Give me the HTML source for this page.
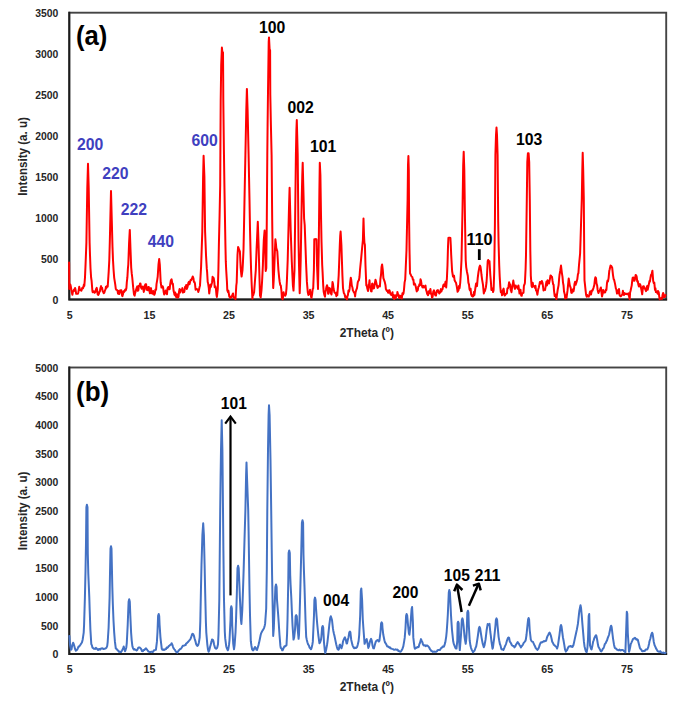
<!DOCTYPE html>
<html><head><meta charset="utf-8"><title>XRD</title>
<style>
html,body{margin:0;padding:0;background:#fff;}
body{width:685px;height:707px;overflow:hidden;}
svg{display:block;}
text{font-family:"Liberation Sans",sans-serif;font-weight:bold;}
.tk{font-size:10.2px;fill:#262626;}
.ti{font-size:12px;fill:#262626;}
.pk{font-size:16.1px;}
.pn{font-size:28.2px;fill:#000;}
</style></head><body>
<svg width="685" height="707" viewBox="0 0 685 707">
<rect x="0" y="0" width="685" height="707" fill="#ffffff"/>
<rect x="69.3" y="12.7" width="596.9" height="286.8" fill="none" stroke="#444444" stroke-width="1.9"/>
<path d="M69.3,11.799999999999999 L69.3,299.5 L667.1,299.5" fill="none" stroke="#1c1c1c" stroke-width="1.9" stroke-linejoin="miter"/>
<path d="M69.1,262.5 L69.3,289.0 L70.3,284.5 L70.7,286.0 L71.6,291.2 L72.4,294.8 L72.9,291.6 L73.3,291.3 L74.0,289.5 L74.6,290.8 L75.1,288.0 L75.5,289.6 L76.2,293.8 L77.0,293.8 L77.9,293.7 L78.4,292.2 L79.2,286.8 L80.1,290.0 L80.6,289.7 L81.4,290.8 L82.3,287.9 L83.0,288.3 L83.4,287.2 L83.9,284.4 L84.3,286.0 L85.0,277.4 L85.6,263.4 L86.4,242.6 L87.3,187.8 L88.0,163.8 L88.7,187.8 L89.6,242.6 L90.0,255.1 L90.5,268.3 L91.1,277.5 L91.6,280.9 L92.4,291.0 L92.7,292.2 L93.3,291.7 L93.8,291.2 L94.6,292.8 L95.5,291.9 L96.0,289.3 L96.7,287.9 L97.1,289.8 L97.7,294.3 L98.2,295.0 L98.9,293.8 L99.3,292.2 L99.9,291.4 L100.4,288.2 L101.1,286.1 L101.5,288.8 L102.1,287.9 L102.6,291.0 L103.3,292.1 L103.7,293.3 L104.3,292.8 L104.8,290.9 L105.6,289.1 L105.9,286.8 L106.5,287.9 L107.0,286.1 L107.7,286.6 L108.1,280.7 L108.7,271.6 L109.3,260.1 L109.8,242.0 L110.3,220.7 L111.0,191.1 L111.8,220.7 L112.5,247.1 L113.0,260.1 L113.6,270.2 L114.2,277.8 L114.8,281.6 L115.3,284.9 L115.8,289.0 L116.4,289.8 L116.9,289.9 L117.5,290.5 L118.0,293.6 L118.6,291.1 L119.1,294.1 L119.7,292.5 L120.2,290.3 L120.8,291.9 L121.3,290.3 L121.9,294.8 L122.4,296.1 L123.0,294.3 L123.5,291.3 L124.1,292.0 L124.7,290.9 L125.2,289.5 L125.7,290.4 L126.4,288.1 L126.8,282.4 L127.4,277.2 L127.9,268.6 L128.3,264.5 L129.1,242.6 L129.8,229.9 L130.5,249.2 L131.2,267.6 L131.7,273.2 L132.3,278.0 L133.2,287.7 L134.0,294.3 L134.6,295.7 L135.1,293.1 L135.6,291.6 L136.2,289.3 L136.7,287.7 L137.3,286.3 L137.8,290.8 L138.4,290.1 L138.9,285.7 L139.5,285.9 L140.0,283.6 L140.5,283.6 L141.1,287.7 L141.7,288.6 L142.2,287.7 L142.8,286.5 L143.3,289.0 L143.8,291.9 L144.4,288.9 L145.0,285.3 L145.5,284.3 L146.1,284.2 L146.6,289.8 L147.1,288.7 L147.7,290.2 L148.3,287.0 L148.8,286.9 L149.4,290.5 L149.9,293.3 L150.4,290.5 L151.0,288.1 L151.6,293.3 L152.1,291.5 L152.7,293.7 L153.2,291.1 L153.7,293.6 L154.3,294.8 L154.9,293.4 L155.4,289.6 L156.1,289.8 L156.5,284.1 L157.1,280.6 L157.7,276.7 L158.5,264.5 L159.2,259.0 L159.8,264.5 L160.7,282.5 L161.5,287.6 L162.0,286.4 L162.6,286.2 L163.1,287.4 L163.7,292.0 L164.2,294.6 L164.8,293.5 L165.3,291.9 L165.7,290.4 L166.4,293.2 L167.0,294.1 L167.5,288.5 L168.3,287.0 L169.2,289.3 L169.7,289.2 L170.1,284.8 L170.8,280.6 L171.6,279.3 L172.5,284.4 L172.9,283.8 L173.6,291.0 L174.1,292.8 L174.5,294.9 L175.2,292.4 L175.8,296.6 L176.3,297.0 L176.9,294.2 L177.4,297.6 L177.8,297.3 L178.5,297.0 L179.1,291.2 L179.6,288.9 L180.2,292.5 L181.0,290.0 L181.8,290.2 L182.4,288.1 L182.9,292.6 L183.5,290.9 L184.3,291.9 L185.1,286.8 L185.7,287.4 L186.2,284.9 L186.8,288.9 L187.6,286.8 L188.4,282.8 L189.0,281.7 L189.5,284.3 L190.2,281.5 L190.6,280.1 L191.2,280.0 L191.7,278.9 L192.3,277.8 L192.7,276.5 L193.4,278.1 L193.9,281.8 L194.6,282.2 L195.0,283.8 L195.6,289.7 L196.4,289.1 L197.2,289.2 L197.8,290.0 L198.3,292.0 L199.0,289.7 L199.6,286.9 L200.0,285.4 L200.6,275.3 L201.1,266.6 L201.6,252.0 L202.3,231.6 L203.1,176.9 L203.6,155.8 L204.4,176.9 L205.1,231.6 L205.5,241.7 L206.0,255.0 L206.8,268.9 L207.1,271.8 L207.7,282.0 L208.1,283.3 L208.8,288.1 L209.2,293.5 L209.9,288.6 L210.4,284.7 L210.8,287.0 L211.5,284.4 L212.1,282.2 L212.6,276.7 L213.0,277.3 L213.7,278.2 L214.3,281.9 L214.7,287.3 L215.4,286.4 L215.9,288.5 L216.5,295.1 L216.9,297.0 L217.8,288.8 L218.4,270.0 L218.9,244.0 L219.6,215.0 L220.2,185.0 L220.4,150.0 L220.7,100.0 L221.2,65.0 L221.9,47.5 L222.5,53.5 L223.0,52.5 L223.2,80.0 L223.3,100.0 L223.9,150.0 L224.4,185.0 L224.9,215.0 L225.4,244.0 L225.8,261.4 L226.2,270.0 L226.9,281.1 L227.3,290.2 L228.0,292.2 L228.4,290.8 L229.3,296.5 L229.7,296.2 L230.2,298.0 L231.0,297.3 L231.9,296.1 L232.4,294.9 L233.0,293.5 L233.5,297.4 L234.1,297.3 L234.6,297.9 L235.5,299.2 L236.3,285.5 L236.7,282.3 L237.5,255.0 L238.1,247.0 L238.5,247.9 L239.2,250.0 L239.9,251.5 L240.7,268.0 L241.2,273.5 L241.6,276.5 L242.5,270.0 L242.9,263.1 L243.5,250.0 L244.0,226.6 L244.5,200.0 L245.4,155.0 L246.3,110.0 L246.9,88.9 L247.6,110.0 L248.6,155.0 L249.5,200.0 L250.0,228.7 L250.5,250.0 L251.1,270.0 L251.7,284.7 L252.4,298.6 L252.8,294.7 L253.3,295.1 L254.1,292.3 L255.0,280.5 L255.8,270.0 L256.6,248.5 L257.0,240.0 L257.8,221.8 L258.6,245.0 L259.4,275.0 L260.0,295.5 L260.7,297.5 L261.5,290.1 L262.1,281.0 L262.9,265.0 L263.2,254.8 L263.8,240.0 L264.6,230.5 L265.2,250.0 L265.7,271.0 L266.3,268.0 L266.8,220.0 L267.3,155.0 L267.6,125.0 L268.0,92.0 L268.7,42.0 L269.0,37.4 L269.6,49.0 L270.1,50.3 L270.3,95.0 L270.9,125.0 L271.6,155.0 L272.2,220.0 L272.8,270.0 L273.2,288.1 L273.7,280.3 L274.2,270.0 L274.8,253.7 L275.4,239.3 L275.9,243.7 L276.3,248.0 L277.3,251.3 L278.4,270.0 L279.2,278.2 L279.7,282.0 L280.2,284.8 L280.8,285.6 L281.4,290.5 L281.9,298.1 L282.6,299.3 L283.0,297.2 L283.6,292.2 L284.0,295.2 L284.7,294.3 L285.2,295.7 L285.9,294.3 L286.5,288.3 L286.9,280.7 L287.7,260.0 L288.7,220.0 L289.1,204.1 L289.6,187.8 L290.3,215.0 L290.7,230.5 L291.2,245.0 L291.8,261.8 L292.4,275.0 L292.9,285.5 L293.5,290.6 L294.0,279.6 L294.5,270.0 L295.1,223.1 L295.9,155.0 L296.4,130.0 L296.8,120.0 L297.2,135.0 L297.7,155.0 L298.5,240.0 L299.0,265.3 L299.7,293.3 L300.1,283.0 L300.7,260.0 L301.2,230.0 L301.7,200.0 L302.3,174.9 L302.7,162.7 L303.4,190.0 L304.1,218.5 L304.7,225.0 L305.6,250.0 L306.1,264.0 L306.9,281.9 L307.8,292.4 L308.4,295.0 L308.9,293.2 L309.4,293.9 L310.0,289.8 L310.5,292.6 L311.1,296.8 L311.5,297.8 L312.2,293.5 L312.7,289.1 L313.2,288.4 L313.9,270.0 L314.3,239.3 L314.9,239.2 L315.5,239.2 L316.0,239.0 L316.5,239.3 L317.0,265.0 L318.0,289.0 L318.7,250.0 L319.4,190.0 L319.8,162.7 L320.4,175.0 L321.0,215.0 L321.5,241.2 L322.2,265.0 L322.6,272.4 L323.2,285.3 L323.7,291.9 L324.3,294.6 L325.0,296.7 L325.4,291.9 L325.9,289.9 L326.5,286.7 L327.0,285.2 L327.6,287.1 L328.1,293.7 L328.5,293.7 L329.2,287.9 L330.0,288.6 L330.9,293.3 L331.5,294.5 L332.0,289.8 L332.5,282.0 L333.0,284.0 L333.6,289.0 L334.5,292.4 L335.3,293.1 L336.0,294.1 L336.4,296.2 L336.9,292.3 L337.3,295.1 L338.0,286.2 L338.7,275.0 L339.1,264.3 L339.8,245.0 L340.2,236.0 L340.6,231.6 L341.4,245.0 L341.9,260.1 L342.4,275.0 L343.0,288.2 L343.8,292.9 L344.6,294.2 L345.2,297.4 L346.0,296.5 L347.0,299.3 L347.4,296.3 L347.9,295.1 L348.5,290.5 L349.0,291.7 L349.6,288.9 L350.1,283.1 L350.8,277.7 L351.2,279.6 L351.8,285.5 L352.5,287.8 L352.9,290.5 L353.4,291.3 L354.0,292.5 L354.7,293.5 L355.1,296.4 L355.6,292.2 L356.2,290.2 L357.0,288.1 L357.8,282.1 L358.4,280.8 L358.9,280.3 L359.5,277.0 L360.0,270.0 L360.6,263.9 L361.1,259.1 L361.7,252.3 L362.2,247.0 L362.9,240.0 L363.5,218.5 L364.0,235.0 L364.4,242.6 L364.9,245.0 L365.5,265.7 L366.3,285.4 L366.6,284.4 L367.2,287.9 L368.0,291.1 L368.8,286.6 L369.5,280.3 L369.9,286.6 L370.5,286.2 L371.0,291.2 L371.6,291.4 L372.1,283.8 L372.5,283.5 L373.2,288.4 L374.0,288.3 L374.9,283.3 L375.5,279.7 L376.0,281.4 L376.5,283.6 L377.0,285.9 L377.6,287.9 L378.2,286.9 L378.8,286.1 L379.3,285.6 L379.9,286.4 L380.4,279.0 L381.0,275.0 L381.5,267.3 L382.1,264.5 L382.8,270.0 L383.4,278.1 L384.3,280.6 L384.8,282.1 L385.5,285.3 L385.9,289.1 L386.8,290.9 L387.5,290.6 L388.1,292.7 L388.6,292.7 L389.3,290.1 L389.7,290.7 L390.3,293.5 L390.8,294.6 L391.4,295.0 L391.9,294.3 L392.5,292.2 L392.9,297.3 L393.6,294.9 L394.1,299.0 L395.0,295.5 L395.8,298.3 L396.3,295.0 L397.0,295.8 L397.4,291.9 L398.0,294.2 L398.5,294.7 L399.0,297.8 L399.6,297.9 L400.2,295.8 L401.0,296.3 L401.8,298.5 L402.4,293.3 L402.9,294.6 L403.5,293.4 L404.0,289.6 L404.6,282.4 L405.2,279.6 L405.7,268.8 L406.5,250.0 L407.6,200.0 L408.0,165.0 L408.4,156.0 L408.8,170.0 L409.1,220.0 L409.5,249.9 L410.0,273.2 L410.9,275.0 L411.5,276.5 L412.3,277.0 L412.9,279.8 L413.4,279.5 L413.9,284.6 L414.5,283.5 L415.0,284.1 L415.6,286.0 L416.1,288.3 L416.7,291.4 L417.1,290.8 L417.8,290.0 L418.3,286.5 L419.0,286.1 L419.4,284.2 L420.0,285.2 L420.5,279.3 L421.0,280.7 L421.6,284.7 L422.5,287.4 L423.3,285.9 L424.0,287.5 L424.4,287.4 L424.9,286.6 L425.5,285.6 L426.0,289.6 L426.6,291.4 L427.1,293.7 L428.0,295.2 L428.8,291.3 L429.3,293.4 L430.0,290.8 L430.4,288.9 L431.0,293.9 L431.5,293.8 L432.0,297.6 L432.6,296.8 L433.2,292.0 L434.0,290.3 L434.8,293.9 L435.4,295.5 L436.0,295.5 L436.5,292.2 L437.0,290.6 L437.6,291.7 L438.0,290.1 L438.7,292.2 L439.2,293.5 L440.1,292.4 L440.9,289.1 L441.4,291.4 L442.0,289.4 L442.5,289.3 L443.1,286.1 L443.6,284.5 L444.0,285.8 L444.7,286.3 L445.5,281.8 L446.2,287.4 L446.9,278.5 L447.5,265.0 L448.0,246.9 L448.4,238.0 L449.1,237.7 L449.7,237.8 L450.4,238.0 L450.8,245.3 L451.2,255.0 L452.1,271.0 L453.0,276.5 L453.5,276.9 L454.0,275.7 L454.6,280.3 L455.2,281.5 L456.0,282.8 L456.8,286.6 L457.6,291.8 L458.5,290.3 L459.0,286.1 L459.6,288.2 L460.2,283.0 L460.7,275.8 L461.5,260.0 L462.5,210.0 L463.2,165.0 L463.7,151.7 L464.3,170.0 L465.0,220.0 L465.7,260.1 L466.2,267.1 L467.0,272.0 L467.8,275.7 L468.4,282.6 L469.0,284.6 L469.5,289.1 L470.0,290.5 L470.6,288.8 L471.1,294.1 L471.8,295.9 L472.2,295.1 L472.8,296.5 L473.5,295.9 L473.9,292.0 L474.4,295.0 L475.1,290.2 L475.5,287.2 L476.1,283.5 L476.6,285.1 L477.0,286.1 L477.7,278.1 L478.5,272.0 L479.4,267.2 L480.0,265.6 L480.5,266.8 L481.0,270.3 L481.5,275.0 L482.1,279.6 L483.0,284.8 L483.8,293.4 L484.3,291.8 L484.9,291.1 L485.4,289.2 L485.9,287.2 L486.5,282.5 L487.0,275.0 L487.7,261.2 L488.2,260.0 L488.7,261.8 L489.5,261.2 L490.3,275.0 L490.9,281.8 L491.4,289.9 L492.0,289.5 L492.6,288.5 L493.1,292.0 L493.6,290.0 L494.2,272.0 L494.9,225.0 L495.4,155.0 L496.0,135.0 L496.5,127.6 L497.0,135.0 L497.6,155.0 L498.2,222.0 L498.6,243.8 L499.2,265.0 L499.7,276.6 L500.3,286.6 L500.8,292.2 L501.4,291.2 L502.0,295.3 L502.5,294.5 L503.0,290.2 L503.6,288.6 L504.0,291.1 L504.7,295.6 L505.2,295.1 L506.0,293.8 L506.9,293.3 L507.4,288.5 L508.0,288.3 L508.5,286.5 L509.1,282.3 L509.6,283.8 L510.0,284.3 L510.7,289.8 L511.5,292.2 L512.4,285.1 L512.9,283.7 L513.3,280.6 L514.0,285.1 L514.6,287.9 L515.0,288.9 L515.7,285.4 L516.2,287.4 L517.0,286.7 L517.9,288.8 L518.4,285.5 L519.0,289.6 L519.5,293.5 L520.1,292.6 L520.5,289.8 L521.2,295.6 L521.7,295.8 L522.1,293.7 L522.8,293.1 L523.5,292.6 L523.9,285.9 L524.5,284.4 L524.9,283.0 L525.6,268.8 L526.0,255.0 L526.8,200.0 L527.3,162.0 L527.9,153.2 L528.6,153.2 L529.2,162.0 L529.8,200.0 L530.3,250.0 L530.8,275.6 L531.6,286.1 L532.1,287.2 L532.7,282.7 L533.3,286.2 L534.1,286.1 L534.9,287.8 L535.5,285.8 L536.0,290.5 L536.6,290.8 L537.4,294.7 L538.2,289.4 L538.8,287.5 L539.5,284.1 L539.9,281.9 L540.4,282.1 L541.0,283.5 L541.8,280.9 L542.6,283.0 L543.5,290.5 L544.3,289.7 L545.1,289.9 L545.9,284.6 L546.5,281.5 L547.0,285.5 L547.6,280.3 L548.1,282.4 L549.0,283.5 L549.8,279.6 L550.5,275.4 L550.9,275.6 L551.4,276.5 L552.0,276.8 L552.5,280.5 L553.1,284.1 L553.6,284.9 L554.0,290.6 L554.7,296.1 L555.3,294.4 L556.0,297.5 L556.4,299.0 L556.9,295.4 L557.8,289.2 L558.6,285.1 L559.1,278.9 L559.5,275.0 L560.2,271.0 L561.0,265.6 L561.9,273.1 L562.5,276.8 L563.0,282.6 L563.5,285.2 L564.0,291.5 L564.8,294.6 L565.2,298.4 L565.7,295.3 L566.5,298.1 L567.5,290.7 L567.9,286.7 L568.7,278.5 L569.8,285.4 L570.7,287.8 L571.3,292.7 L571.8,292.9 L572.3,290.6 L572.9,289.4 L573.5,291.4 L574.0,288.9 L574.5,283.9 L575.1,281.8 L575.6,284.8 L576.0,283.7 L576.7,281.5 L577.3,279.3 L577.9,274.3 L578.4,273.3 L579.0,265.0 L579.5,259.9 L580.1,253.5 L580.6,238.3 L581.0,225.0 L581.8,198.8 L582.3,170.0 L582.7,152.8 L583.2,170.0 L583.8,198.8 L584.2,250.0 L584.5,280.3 L585.0,284.9 L585.5,289.7 L586.1,295.0 L586.7,296.7 L587.2,295.0 L588.0,296.3 L588.8,296.6 L589.4,294.5 L590.0,291.8 L590.5,291.3 L591.0,294.5 L591.6,291.8 L592.1,290.3 L592.5,290.6 L593.5,287.8 L594.3,285.1 L594.9,279.5 L595.4,277.3 L596.0,278.1 L596.5,283.4 L597.1,285.2 L597.6,289.7 L598.4,293.0 L599.3,290.9 L600.0,290.1 L600.4,288.7 L600.9,287.5 L601.5,292.7 L602.0,296.4 L602.6,294.1 L603.1,289.9 L604.0,292.3 L604.8,292.6 L605.3,292.0 L605.9,289.5 L606.4,290.0 L607.0,283.0 L607.5,280.6 L608.0,281.4 L608.6,278.1 L609.3,270.7 L609.7,269.3 L610.5,265.6 L611.4,266.2 L612.2,267.8 L613.0,275.1 L613.7,279.3 L614.1,279.7 L615.0,283.6 L615.9,288.6 L616.3,289.4 L617.0,293.5 L617.4,291.6 L618.0,290.4 L618.5,293.2 L619.0,289.0 L619.6,295.2 L620.5,296.3 L621.3,295.8 L622.0,294.8 L622.4,294.3 L622.9,290.8 L623.5,294.5 L624.0,295.0 L624.6,293.1 L625.1,293.6 L626.0,294.1 L626.8,293.7 L627.3,294.3 L628.0,294.0 L628.4,293.3 L629.0,296.1 L629.7,299.3 L630.1,292.5 L630.6,290.8 L631.2,287.8 L631.7,285.6 L632.3,280.2 L632.7,277.6 L633.4,277.4 L634.0,280.8 L634.5,280.8 L635.0,278.9 L635.6,275.1 L636.1,275.2 L636.7,276.8 L637.2,281.4 L637.8,281.0 L638.3,284.4 L638.9,286.5 L639.5,285.8 L640.0,284.1 L640.5,285.3 L641.4,289.7 L642.2,294.3 L643.0,286.5 L643.8,286.3 L644.3,288.3 L644.9,288.5 L645.5,290.0 L646.0,291.2 L646.6,287.3 L647.3,285.8 L647.7,289.7 L648.5,286.1 L649.5,281.0 L649.9,281.7 L650.4,278.3 L651.0,275.0 L651.5,274.8 L652.4,270.7 L653.2,281.1 L653.8,283.3 L654.3,282.5 L655.0,289.8 L655.4,288.2 L655.9,292.1 L656.8,291.8 L657.6,293.6 L658.0,290.9 L658.7,292.2 L659.2,296.3 L659.7,299.3 L660.3,298.6 L661.0,298.3 L661.4,297.7 L662.0,298.9 L662.6,294.7 L663.1,293.0 L663.6,294.2 L664.0,297.0 L664.7,297.0 L665.5,295.1" fill="none" stroke="#ff0000" stroke-width="2" stroke-linejoin="round" stroke-linecap="round"/>
<text class="tk" x="58.3" y="303.8" text-anchor="end" textLength="5.9" lengthAdjust="spacingAndGlyphs">0</text>
<text class="tk" x="58.3" y="262.8" text-anchor="end" textLength="17.4" lengthAdjust="spacingAndGlyphs">500</text>
<text class="tk" x="58.3" y="221.9" text-anchor="end" textLength="23.1" lengthAdjust="spacingAndGlyphs">1000</text>
<text class="tk" x="58.3" y="180.9" text-anchor="end" textLength="23.1" lengthAdjust="spacingAndGlyphs">1500</text>
<text class="tk" x="58.3" y="139.9" text-anchor="end" textLength="23.1" lengthAdjust="spacingAndGlyphs">2000</text>
<text class="tk" x="58.3" y="98.9" text-anchor="end" textLength="23.1" lengthAdjust="spacingAndGlyphs">2500</text>
<text class="tk" x="58.3" y="58.0" text-anchor="end" textLength="23.1" lengthAdjust="spacingAndGlyphs">3000</text>
<text class="tk" x="58.3" y="17.0" text-anchor="end" textLength="23.1" lengthAdjust="spacingAndGlyphs">3500</text>
<text class="tk" x="69.8" y="318.7" text-anchor="middle" textLength="5.9" lengthAdjust="spacingAndGlyphs">5</text>
<text class="tk" x="149.4" y="318.7" text-anchor="middle" textLength="11.9" lengthAdjust="spacingAndGlyphs">15</text>
<text class="tk" x="229.0" y="318.7" text-anchor="middle" textLength="11.9" lengthAdjust="spacingAndGlyphs">25</text>
<text class="tk" x="308.6" y="318.7" text-anchor="middle" textLength="11.9" lengthAdjust="spacingAndGlyphs">35</text>
<text class="tk" x="388.1" y="318.7" text-anchor="middle" textLength="11.9" lengthAdjust="spacingAndGlyphs">45</text>
<text class="tk" x="467.7" y="318.7" text-anchor="middle" textLength="11.9" lengthAdjust="spacingAndGlyphs">55</text>
<text class="tk" x="547.3" y="318.7" text-anchor="middle" textLength="11.9" lengthAdjust="spacingAndGlyphs">65</text>
<text class="tk" x="626.9" y="318.7" text-anchor="middle" textLength="11.9" lengthAdjust="spacingAndGlyphs">75</text>
<text class="ti" x="366.8" y="336.8" text-anchor="middle" textLength="54.2" lengthAdjust="spacingAndGlyphs">2Theta (º)</text>
<text class="ti" transform="translate(27.2,156.4) rotate(-90)" text-anchor="middle" textLength="78.6" lengthAdjust="spacingAndGlyphs">Intensity (a. u)</text>
<text class="pn" x="76.0" y="45.2" textLength="31.4" lengthAdjust="spacingAndGlyphs">(a)</text>
<text class="pk" x="77.0" y="150.0" fill="#3f3fbf" textLength="26.3" lengthAdjust="spacingAndGlyphs">200</text>
<text class="pk" x="102.2" y="179.0" fill="#3f3fbf" textLength="26.3" lengthAdjust="spacingAndGlyphs">220</text>
<text class="pk" x="120.8" y="215.2" fill="#3f3fbf" textLength="26.3" lengthAdjust="spacingAndGlyphs">222</text>
<text class="pk" x="147.8" y="247.4" fill="#3f3fbf" textLength="26.3" lengthAdjust="spacingAndGlyphs">440</text>
<text class="pk" x="191.6" y="146.2" fill="#3f3fbf" textLength="26.3" lengthAdjust="spacingAndGlyphs">600</text>
<text class="pk" x="258.9" y="33.0" fill="#000" textLength="26.3" lengthAdjust="spacingAndGlyphs">100</text>
<text class="pk" x="287.4" y="112.7" fill="#000" textLength="26.3" lengthAdjust="spacingAndGlyphs">002</text>
<text class="pk" x="310.0" y="152.4" fill="#000" textLength="26.3" lengthAdjust="spacingAndGlyphs">101</text>
<text class="pk" x="515.9" y="144.5" fill="#000" textLength="26.3" lengthAdjust="spacingAndGlyphs">103</text>
<text class="pk" x="466.4" y="244.8" fill="#000" textLength="26.3" lengthAdjust="spacingAndGlyphs">110</text>
<line x1="479.3" y1="249.2" x2="479.3" y2="260.0" stroke="#000" stroke-width="2.8"/>
<rect x="69.3" y="367.5" width="596.9" height="286.5" fill="none" stroke="#444444" stroke-width="1.9"/>
<path d="M69.3,366.6 L69.3,654.0 L667.1,654.0" fill="none" stroke="#1c1c1c" stroke-width="1.9" stroke-linejoin="miter"/>
<path d="M69.4,635.9 L70.1,645.6 L70.9,649.8 L71.5,649.2 L72.2,645.4 L73.1,642.7 L73.6,643.7 L74.3,646.1 L75.0,648.8 L75.9,650.7 L76.4,650.2 L77.1,649.9 L77.8,648.3 L78.5,646.5 L79.2,646.6 L79.9,645.4 L80.6,644.6 L81.4,643.3 L82.0,642.2 L82.7,639.4 L83.7,632.6 L84.1,624.5 L84.9,597.6 L85.5,571.4 L86.0,542.8 L86.4,507.3 L86.9,504.8 L87.5,507.3 L87.8,553.8 L88.3,573.8 L89.3,597.6 L89.7,610.1 L90.4,629.6 L91.3,644.1 L91.8,645.1 L92.5,647.7 L93.5,648.3 L93.9,648.7 L94.6,648.8 L95.3,649.0 L96.0,647.9 L96.7,648.5 L97.4,649.3 L98.1,650.0 L99.0,649.0 L99.5,649.1 L100.2,649.7 L100.9,648.5 L101.6,648.5 L102.0,648.2 L103.0,648.8 L103.7,649.0 L104.4,648.7 L105.0,648.7 L105.8,648.3 L106.6,647.5 L107.2,646.0 L107.7,641.8 L108.6,627.8 L109.6,597.6 L110.0,573.2 L110.5,548.7 L111.0,546.2 L111.5,548.7 L112.3,586.6 L112.8,603.3 L113.5,620.5 L114.2,632.6 L114.9,641.4 L115.8,648.5 L116.3,648.6 L117.0,649.5 L118.0,650.7 L118.4,650.8 L119.1,651.9 L119.8,651.7 L120.5,652.1 L121.0,652.1 L121.9,650.8 L122.6,649.4 L123.3,648.0 L123.7,646.5 L125.0,651.3 L125.4,650.6 L126.3,647.4 L126.8,642.8 L127.7,625.0 L128.2,611.8 L128.6,601.8 L129.2,599.3 L129.8,601.8 L130.3,615.0 L131.1,632.6 L131.7,640.3 L132.4,646.3 L132.9,647.9 L133.8,649.4 L134.5,649.0 L135.2,649.8 L136.0,649.9 L136.6,650.5 L137.3,650.0 L138.0,648.2 L138.7,647.4 L139.4,647.4 L139.9,647.8 L140.8,648.5 L141.5,649.8 L142.0,651.1 L142.9,651.2 L143.6,650.0 L144.3,650.1 L145.0,649.2 L146.0,648.3 L146.4,648.9 L147.1,649.7 L147.8,650.7 L148.5,651.6 L149.2,651.8 L150.0,652.0 L150.6,651.9 L151.3,651.8 L152.0,651.8 L152.7,652.1 L153.4,651.1 L154.0,650.3 L154.8,650.2 L155.5,649.9 L155.9,649.8 L156.9,641.9 L157.5,632.0 L158.1,615.9 L158.7,614.0 L159.2,615.9 L159.6,625.0 L160.4,636.8 L160.8,640.7 L161.8,648.8 L162.4,649.8 L163.2,649.4 L163.9,649.9 L164.6,649.8 L165.0,649.3 L166.0,649.1 L166.7,647.5 L167.4,647.9 L168.0,647.3 L168.8,645.9 L169.5,645.7 L170.2,644.9 L170.9,644.6 L171.6,643.2 L172.3,644.6 L173.0,646.8 L173.5,648.2 L174.4,649.3 L175.1,650.1 L175.8,651.6 L176.7,652.1 L177.2,652.7 L177.9,651.7 L178.6,650.6 L179.3,650.0 L180.0,649.1 L180.7,649.0 L181.4,648.1 L182.1,646.9 L182.8,645.7 L183.2,645.8 L184.2,645.5 L184.9,645.2 L185.6,645.1 L186.0,643.8 L187.0,642.9 L187.7,642.3 L188.7,641.1 L189.1,640.7 L189.8,639.9 L190.5,639.0 L191.0,637.7 L192.1,634.3 L192.7,633.7 L193.2,634.3 L194.0,636.0 L194.5,638.2 L195.4,641.1 L196.1,644.0 L196.8,645.4 L197.5,645.9 L198.2,645.1 L198.9,642.5 L199.7,637.3 L200.3,621.6 L201.0,587.0 L201.5,564.7 L202.4,535.0 L203.2,523.2 L203.9,535.0 L204.6,564.7 L205.2,593.6 L205.9,622.2 L206.3,632.6 L207.3,644.3 L208.0,649.8 L208.6,651.8 L209.4,649.9 L210.1,646.8 L210.5,645.4 L211.5,641.6 L212.0,639.4 L212.6,639.6 L213.2,640.4 L213.6,642.0 L214.0,644.2 L215.0,647.7 L215.8,648.5 L216.4,648.7 L217.1,647.9 L218.0,644.2 L218.5,634.1 L219.3,600.0 L220.2,510.0 L220.6,476.9 L221.0,450.0 L221.7,420.2 L222.4,450.0 L223.0,510.0 L223.4,550.7 L224.0,600.0 L224.8,631.7 L225.2,638.4 L226.2,646.2 L226.9,648.4 L227.8,650.3 L228.3,649.2 L229.0,644.9 L229.5,640.3 L230.5,620.0 L230.8,608.5 L231.3,606.3 L231.9,608.5 L232.2,625.0 L233.2,643.5 L234.0,649.3 L234.6,645.1 L235.5,632.6 L236.0,620.9 L236.8,595.0 L237.5,568.3 L238.1,565.8 L238.7,568.3 L239.5,587.4 L239.9,597.6 L240.9,619.4 L241.4,623.9 L242.3,609.6 L243.0,590.0 L243.7,568.1 L244.5,540.0 L245.4,510.0 L246.1,475.0 L246.5,462.5 L247.1,480.0 L248.2,510.0 L248.6,531.2 L249.5,590.0 L250.0,615.1 L250.8,641.2 L251.4,645.5 L252.1,649.3 L253.0,650.4 L253.5,650.2 L254.2,648.5 L255.0,647.0 L255.6,647.8 L256.5,649.7 L257.0,650.0 L257.7,647.8 L258.5,645.1 L259.1,642.6 L259.8,639.2 L260.7,634.8 L261.2,633.1 L261.9,631.8 L262.6,630.3 L263.0,630.0 L264.0,628.1 L264.7,625.7 L265.1,623.9 L266.2,608.5 L266.8,570.0 L267.3,510.0 L268.0,450.0 L268.6,415.0 L269.0,405.3 L269.6,415.0 L270.5,460.0 L271.2,510.0 L271.7,547.7 L272.1,575.7 L273.2,635.9 L273.8,628.3 L274.5,610.0 L275.4,586.9 L276.0,584.4 L276.6,586.9 L277.0,600.0 L278.2,615.1 L278.7,622.5 L279.5,635.0 L280.4,645.9 L280.8,648.0 L281.5,648.5 L282.2,650.3 L282.6,650.3 L283.6,648.0 L284.5,646.2 L285.0,646.5 L285.7,645.9 L286.5,645.3 L287.1,633.5 L287.5,620.0 L288.3,580.0 L288.6,553.0 L289.2,550.5 L289.8,553.0 L290.2,575.0 L290.6,584.7 L291.3,597.6 L292.0,614.4 L292.5,625.0 L293.5,639.6 L294.1,637.8 L295.0,630.0 L295.6,616.3 L296.2,615.1 L296.8,616.3 L297.3,625.0 L298.6,638.8 L299.0,635.0 L299.7,611.9 L300.1,597.6 L301.3,550.0 L301.9,522.8 L302.5,520.3 L303.1,522.8 L303.5,555.0 L303.9,569.6 L304.5,586.6 L305.5,620.0 L306.2,637.0 L306.7,639.4 L307.4,642.3 L308.1,644.4 L308.9,645.5 L309.5,647.5 L310.2,648.2 L311.0,649.3 L311.6,647.9 L312.3,644.7 L312.8,641.9 L314.0,615.0 L314.4,600.1 L315.0,597.6 L315.6,600.1 L316.0,608.0 L316.5,615.2 L317.2,623.9 L317.9,631.0 L318.3,635.0 L319.4,643.2 L320.0,642.6 L321.0,639.7 L321.4,636.5 L322.1,627.3 L322.7,626.0 L323.2,627.3 L324.0,642.5 L324.9,651.3 L325.3,653.1 L326.3,648.9 L327.0,645.0 L327.5,641.6 L328.4,633.6 L329.3,625.0 L329.8,621.1 L330.2,618.0 L330.8,616.2 L331.4,618.0 L332.0,620.0 L332.9,628.2 L333.3,630.7 L334.0,634.0 L334.5,636.0 L335.4,640.4 L336.2,644.3 L336.8,646.6 L337.5,648.9 L338.4,649.7 L338.9,649.2 L339.6,645.0 L340.0,644.5 L341.0,647.1 L341.5,648.3 L342.4,645.3 L343.0,641.5 L343.8,639.3 L344.5,637.8 L344.9,637.3 L345.9,640.2 L346.6,643.6 L347.0,643.4 L348.0,639.1 L348.5,637.5 L349.3,632.3 L349.9,631.5 L350.4,632.3 L350.8,636.0 L351.2,639.7 L352.5,645.2 L352.9,646.1 L353.6,647.5 L354.3,648.3 L355.0,647.6 L355.8,648.1 L356.4,647.7 L357.1,647.1 L357.8,644.5 L358.6,641.0 L359.2,635.1 L360.2,615.0 L360.8,590.9 L361.3,588.4 L362.1,600.0 L362.8,619.5 L363.4,628.2 L363.9,635.0 L364.6,643.8 L365.5,641.5 L366.2,639.8 L366.7,639.1 L367.6,643.7 L368.3,647.9 L369.0,646.3 L369.7,642.6 L370.4,640.2 L371.1,638.8 L371.8,640.8 L372.5,645.4 L373.3,648.2 L373.9,648.4 L374.6,645.8 L375.3,643.2 L376.0,641.2 L376.6,640.7 L377.4,640.1 L378.1,640.2 L378.8,641.5 L379.4,640.9 L380.5,632.0 L381.1,623.4 L381.6,622.3 L382.2,623.4 L382.5,628.0 L383.3,634.8 L383.7,636.7 L384.4,640.2 L385.1,642.6 L385.5,643.0 L386.5,644.8 L387.2,646.4 L387.9,646.4 L388.6,646.9 L389.6,647.7 L390.0,647.4 L390.7,648.6 L391.4,648.6 L392.1,648.9 L392.9,649.1 L393.5,649.6 L394.2,649.8 L394.9,649.6 L395.6,649.3 L396.3,649.8 L397.0,649.6 L397.7,649.7 L398.4,651.1 L399.1,651.1 L399.8,651.6 L400.7,651.7 L401.2,651.0 L401.9,649.9 L402.5,648.7 L403.3,646.4 L404.2,641.2 L404.7,637.9 L405.5,628.0 L406.1,615.7 L406.6,614.0 L407.2,615.7 L407.5,619.2 L408.0,625.0 L408.9,633.2 L409.4,634.8 L410.3,627.0 L410.8,620.0 L411.6,609.0 L412.1,607.0 L412.9,622.0 L413.3,637.4 L413.8,641.8 L414.5,647.3 L414.9,648.8 L415.9,647.7 L416.6,647.9 L417.3,647.1 L418.2,647.2 L418.7,646.9 L419.4,644.0 L419.8,643.4 L421.0,639.1 L421.5,640.4 L422.5,642.5 L422.9,644.3 L423.7,645.5 L424.3,645.5 L425.0,645.2 L425.7,646.1 L426.4,645.5 L427.0,645.5 L427.8,645.9 L428.5,646.6 L429.2,647.5 L430.0,649.2 L430.6,649.9 L431.3,651.0 L432.0,651.0 L432.7,651.9 L433.5,651.7 L434.1,651.5 L434.8,651.8 L435.5,651.8 L436.2,651.8 L437.0,651.2 L437.6,650.1 L438.3,649.9 L439.0,650.1 L439.7,650.1 L440.1,649.8 L441.1,648.1 L442.0,647.6 L442.5,646.6 L443.2,646.6 L443.9,646.7 L444.5,645.2 L445.3,642.3 L446.2,636.6 L446.7,631.6 L447.4,621.6 L447.8,615.0 L448.8,592.4 L449.3,589.9 L449.9,592.4 L450.3,600.0 L451.0,615.1 L451.6,624.4 L452.0,630.0 L453.2,641.3 L453.7,643.6 L454.4,645.3 L455.1,647.2 L455.8,648.5 L456.5,648.6 L457.3,640.5 L457.6,623.1 L458.1,621.7 L458.7,623.1 L459.0,640.2 L459.8,650.1 L461.0,635.0 L461.4,627.3 L461.8,620.0 L462.4,618.4 L462.9,620.0 L463.5,625.0 L464.5,636.4 L464.9,639.3 L465.7,643.8 L466.3,638.7 L466.8,630.0 L467.3,612.6 L467.9,610.7 L468.4,612.6 L468.8,625.0 L469.7,640.7 L470.5,645.8 L471.0,647.8 L471.9,650.2 L472.6,651.2 L473.0,652.3 L474.0,651.2 L474.7,650.3 L475.4,648.2 L476.2,646.3 L476.8,642.9 L477.5,638.4 L478.0,635.0 L478.9,628.2 L479.5,626.9 L480.1,628.2 L481.0,634.0 L481.7,638.3 L482.4,642.1 L482.8,644.0 L483.8,647.2 L484.5,645.3 L485.5,639.9 L485.9,636.7 L486.6,630.5 L487.0,628.0 L487.7,623.9 L488.2,625.0 L488.7,625.1 L489.5,623.9 L490.3,632.0 L490.8,635.6 L491.5,641.8 L492.5,648.7 L492.9,647.8 L493.6,642.4 L494.0,639.6 L495.0,630.0 L495.5,625.0 L495.9,619.9 L496.5,618.4 L497.1,619.9 L497.5,625.0 L498.6,636.8 L499.2,640.4 L499.9,644.0 L500.5,645.4 L501.3,648.9 L502.0,649.5 L502.4,649.3 L503.4,649.9 L504.1,648.5 L505.0,646.2 L505.5,645.1 L506.2,643.3 L507.0,640.5 L507.9,638.0 L508.5,637.5 L509.1,637.8 L509.8,641.6 L510.4,642.3 L511.1,643.5 L511.8,645.1 L512.5,645.7 L513.2,645.9 L513.9,646.4 L514.4,647.4 L515.3,646.3 L516.0,644.6 L516.7,643.6 L517.7,642.0 L518.1,642.9 L518.8,643.5 L519.5,645.0 L520.2,646.0 L521.0,647.4 L521.6,646.1 L522.3,645.6 L523.0,644.4 L523.7,642.9 L524.4,642.1 L525.4,640.9 L525.8,639.6 L526.5,635.0 L527.0,630.0 L528.1,619.3 L528.6,618.0 L529.1,619.3 L529.7,630.0 L530.8,639.6 L531.4,640.8 L532.1,641.6 L533.0,641.9 L533.5,643.2 L534.2,644.7 L535.0,646.2 L535.6,647.9 L536.3,648.7 L537.0,649.4 L537.4,649.9 L538.4,648.7 L539.1,646.9 L539.8,644.6 L540.7,642.6 L541.2,642.2 L541.9,642.5 L542.6,642.0 L543.0,641.8 L544.0,641.0 L544.7,641.4 L545.1,641.0 L546.1,640.7 L546.8,638.2 L547.5,636.2 L548.2,634.9 L549.0,633.3 L549.5,632.6 L550.0,633.3 L551.0,636.2 L551.7,639.2 L552.1,641.4 L553.1,643.2 L553.8,644.8 L554.5,645.1 L554.9,645.7 L555.9,646.5 L556.6,647.4 L557.1,648.5 L558.0,645.2 L559.0,638.0 L559.4,635.3 L560.5,626.3 L561.0,625.0 L561.5,626.3 L562.5,634.0 L562.9,637.2 L563.7,641.3 L564.3,644.8 L565.0,649.3 L565.9,651.6 L566.4,650.6 L567.1,650.1 L567.8,648.2 L568.5,646.9 L569.2,646.4 L569.9,646.3 L570.6,646.0 L571.3,646.7 L572.0,646.4 L572.4,647.0 L573.4,645.2 L574.1,642.1 L574.8,638.9 L575.7,634.8 L576.2,632.5 L576.9,629.4 L577.9,623.9 L578.3,620.4 L579.0,613.8 L579.4,610.7 L580.0,607.7 L580.5,605.3 L581.0,607.7 L581.8,616.1 L582.3,622.8 L583.2,633.2 L583.9,641.4 L584.5,646.2 L585.3,649.5 L586.0,651.6 L586.7,652.2 L587.4,648.2 L588.0,639.3 L588.7,615.9 L589.2,614.0 L590.0,645.4 L591.1,649.0 L591.6,649.4 L592.3,646.1 L593.2,641.4 L593.7,640.3 L594.4,637.9 L595.4,636.1 L595.9,635.2 L596.4,635.9 L597.2,640.0 L597.9,644.3 L598.4,646.8 L599.3,648.3 L600.0,649.6 L600.7,651.1 L601.3,651.5 L602.1,650.4 L602.8,648.8 L603.5,648.3 L604.2,646.2 L604.9,643.9 L605.6,643.3 L606.3,641.6 L607.0,640.5 L607.7,638.1 L608.6,635.9 L609.1,634.5 L610.0,630.0 L610.6,626.9 L611.1,625.7 L611.6,626.9 L612.6,635.0 L613.0,638.3 L614.0,644.7 L614.7,647.6 L615.1,648.1 L616.1,648.7 L616.8,649.6 L617.5,649.8 L618.2,650.3 L618.8,650.3 L619.6,649.6 L620.3,650.5 L621.0,650.3 L621.7,650.0 L622.4,649.9 L623.2,650.1 L623.8,651.0 L624.5,651.3 L625.4,652.3 L626.0,635.0 L626.8,611.8 L627.3,613.8 L627.8,633.0 L629.0,651.7 L629.4,650.9 L630.1,647.5 L630.8,643.9 L631.2,643.1 L632.2,640.9 L633.0,639.0 L633.6,638.6 L634.4,638.6 L634.9,637.8 L635.4,638.3 L636.4,639.6 L637.1,639.2 L637.8,639.7 L638.5,642.5 L639.2,645.2 L639.9,647.9 L640.7,649.2 L641.3,649.6 L642.0,651.0 L642.7,651.3 L643.6,651.1 L644.1,651.0 L644.8,650.9 L645.5,649.9 L646.2,649.4 L646.9,649.5 L647.3,649.3 L648.3,647.1 L649.0,644.0 L649.5,641.3 L650.4,638.5 L651.0,635.6 L651.6,633.7 L652.1,632.7 L652.6,633.7 L653.2,637.7 L653.8,642.0 L654.6,645.2 L655.3,646.6 L656.0,648.4 L656.8,649.6 L657.4,650.9 L658.1,651.3 L658.8,651.7 L659.5,651.8 L660.2,651.1 L661.1,652.2 L661.6,652.6 L662.3,652.8 L663.0,652.7 L663.7,652.6 L664.4,653.0 L665.1,653.2 L665.5,652.8" fill="none" stroke="#4472c4" stroke-width="2" stroke-linejoin="round" stroke-linecap="round"/>
<text class="tk" x="58.3" y="658.3" text-anchor="end" textLength="5.9" lengthAdjust="spacingAndGlyphs">0</text>
<text class="tk" x="58.3" y="629.6" text-anchor="end" textLength="17.4" lengthAdjust="spacingAndGlyphs">500</text>
<text class="tk" x="58.3" y="601.0" text-anchor="end" textLength="23.1" lengthAdjust="spacingAndGlyphs">1000</text>
<text class="tk" x="58.3" y="572.3" text-anchor="end" textLength="23.1" lengthAdjust="spacingAndGlyphs">1500</text>
<text class="tk" x="58.3" y="543.7" text-anchor="end" textLength="23.1" lengthAdjust="spacingAndGlyphs">2000</text>
<text class="tk" x="58.3" y="515.0" text-anchor="end" textLength="23.1" lengthAdjust="spacingAndGlyphs">2500</text>
<text class="tk" x="58.3" y="486.4" text-anchor="end" textLength="23.1" lengthAdjust="spacingAndGlyphs">3000</text>
<text class="tk" x="58.3" y="457.8" text-anchor="end" textLength="23.1" lengthAdjust="spacingAndGlyphs">3500</text>
<text class="tk" x="58.3" y="429.1" text-anchor="end" textLength="23.1" lengthAdjust="spacingAndGlyphs">4000</text>
<text class="tk" x="58.3" y="400.4" text-anchor="end" textLength="23.1" lengthAdjust="spacingAndGlyphs">4500</text>
<text class="tk" x="58.3" y="371.8" text-anchor="end" textLength="23.1" lengthAdjust="spacingAndGlyphs">5000</text>
<text class="tk" x="69.8" y="673.3" text-anchor="middle" textLength="5.9" lengthAdjust="spacingAndGlyphs">5</text>
<text class="tk" x="149.4" y="673.3" text-anchor="middle" textLength="11.9" lengthAdjust="spacingAndGlyphs">15</text>
<text class="tk" x="229.0" y="673.3" text-anchor="middle" textLength="11.9" lengthAdjust="spacingAndGlyphs">25</text>
<text class="tk" x="308.6" y="673.3" text-anchor="middle" textLength="11.9" lengthAdjust="spacingAndGlyphs">35</text>
<text class="tk" x="388.1" y="673.3" text-anchor="middle" textLength="11.9" lengthAdjust="spacingAndGlyphs">45</text>
<text class="tk" x="467.7" y="673.3" text-anchor="middle" textLength="11.9" lengthAdjust="spacingAndGlyphs">55</text>
<text class="tk" x="547.3" y="673.3" text-anchor="middle" textLength="11.9" lengthAdjust="spacingAndGlyphs">65</text>
<text class="tk" x="626.9" y="673.3" text-anchor="middle" textLength="11.9" lengthAdjust="spacingAndGlyphs">75</text>
<text class="ti" x="366.8" y="691.3" text-anchor="middle" textLength="54.2" lengthAdjust="spacingAndGlyphs">2Theta (º)</text>
<text class="ti" transform="translate(27.2,510.9) rotate(-90)" text-anchor="middle" textLength="78.6" lengthAdjust="spacingAndGlyphs">Intensity (a. u)</text>
<text class="pn" x="76.0" y="400.8" textLength="33.2" lengthAdjust="spacingAndGlyphs">(b)</text>
<text class="pk" x="220.8" y="409.3" fill="#000" textLength="26.0" lengthAdjust="spacingAndGlyphs">101</text>
<text class="pk" x="323.1" y="605.9" fill="#000" textLength="26.0" lengthAdjust="spacingAndGlyphs">004</text>
<text class="pk" x="392.4" y="597.6" fill="#000" textLength="26.0" lengthAdjust="spacingAndGlyphs">200</text>
<text class="pk" x="443.8" y="580.7" fill="#000" textLength="26.0" lengthAdjust="spacingAndGlyphs">105</text>
<text class="pk" x="474.5" y="580.7" fill="#000" textLength="26.0" lengthAdjust="spacingAndGlyphs">211</text>
<g fill="none" stroke="#000" stroke-width="2.2" stroke-linecap="butt" stroke-linejoin="miter">
<path d="M230.5,595.4 L230.5,417"/><path d="M225.2,423.6 L230.5,416.6 L235.8,423.6"/>
</g>
<g fill="none" stroke="#000" stroke-width="2.5" stroke-linejoin="round">
<path d="M461.6,612.0 L457.1,585.6"/><path d="M454.2,591.3 L456.9,584.6 L462.4,590.0"/>
<path d="M468.9,605.8 L478.3,584.6"/><path d="M472.9,585.6 L478.9,583.8 L480.7,590.4"/>
</g>
</svg>
</body></html>
